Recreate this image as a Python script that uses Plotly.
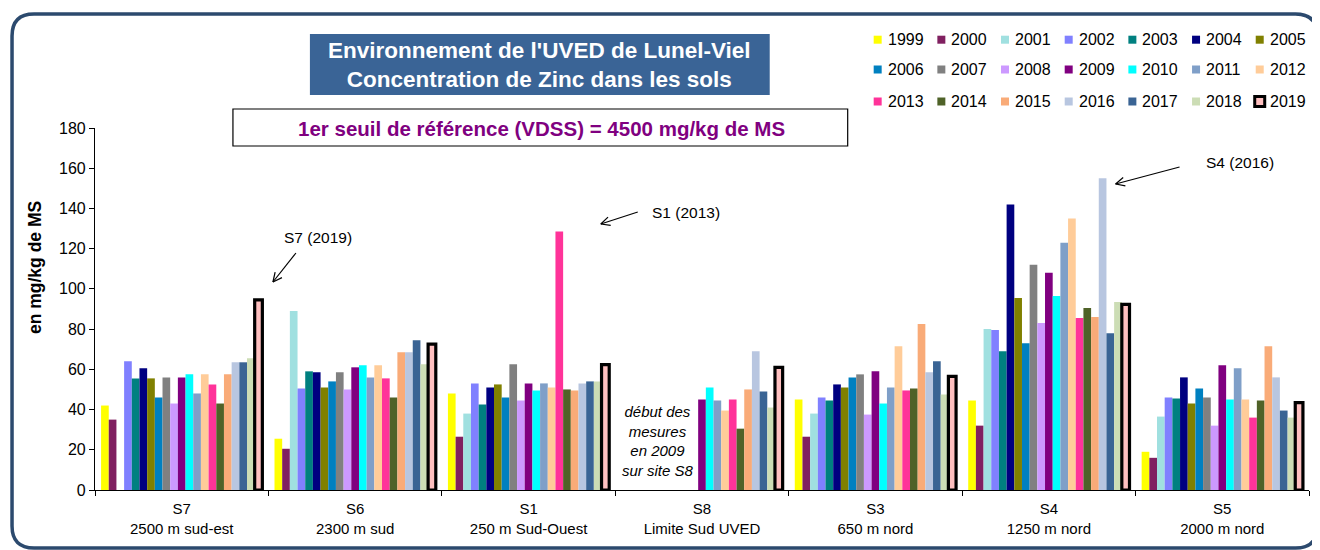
import math
import plotly.graph_objects as go

# ---------------- data ----------------
sites = ["S7<br>2500 m sud-est", "S6<br>2300 m sud", "S1<br>250 m Sud-Ouest",
         "S8<br>Limite Sud UVED", "S3<br>650 m nord", "S4<br>1250 m nord", "S5<br>2000 m nord"]
years = ["1999", "2000", "2001", "2002", "2003", "2004", "2005", "2006", "2007", "2008",
         "2009", "2010", "2011", "2012", "2013", "2014", "2015", "2016", "2017", "2018", "2019"]

# Zinc concentration (mg/kg MS), one list per site, ordered by year 1999..2019
s7 = [42, 35, None, 64, 55.5, 60.5, 55.5, 46, 56, 43, 56, 57.5, 48, 57.5, 52.5, 43, 57.5, 63.5, 63.5, 65.5, 94.5]
s6 = [25.5, 20.5, 89, 50.5, 59, 58.5, 51, 54, 58.5, 50, 61, 62, 56, 62, 55.5, 46, 68.5, 68.5, 74.5, 62.5, 72.5]
s1 = [48, 26.5, 38, 53, 42.5, 51, 52.5, 46, 62.5, 44.5, 53, 49.5, 53, 51, 128.5, 50, 49.5, 53, 54, 54, 62.3]
s8 = [None, None, None, None, None, None, None, None, None, None,
      45, 51, 44.5, 39.5, 45, 30.5, 50, 69, 49, 41, 61]
s3 = [45, 26.5, 38, 46, 44.5, 52.5, 51, 56, 57.5, 37.5, 59, 43, 51, 71.5, 49.5, 50.5, 82.5, 58.5, 64, 47.5, 56.5]
s4 = [44.5, 32, 80, 79.5, 69, 142, 95.5, 73, 112, 83, 108, 96.5, 123, 135, 85.5, 90.5, 86, 155, 78, 93.5, 92.3]
s5 = [19, 16, 36.5, 46, 45.5, 56, 43, 50.5, 46, 32, 62, 45, 60.5, 45, 36, 44.5, 71.5, 56, 39.5, 36, 43.4]

site_values = [s7, s6, s1, s8, s3, s4, s5]

colors = ["#FFFF00", "#802060", "#A0E0E0", "#8080FF", "#008080", "#000080", "#808000",
          "#0080C0", "#808080", "#CC99FF", "#800080", "#00FFFF", "#7F9FC8", "#FFCC99",
          "#FF3399", "#4F6228", "#F9AB78", "#B8C6E0", "#3A6494", "#CCDDB5", "#FFC0C0"]

# ---------------- geometry helpers ----------------
# The page body has an 8px margin, so page coordinates = figure coordinates + 8.
W, H = 1320, 550
OFF = 8
PLOT_LEFT, PLOT_RIGHT, PLOT_TOP, PLOT_BOTTOM = 95, 1309.5, 128, 490  # page pixels
L = PLOT_LEFT - OFF
R = W - (PLOT_RIGHT - OFF)
T = PLOT_TOP - OFF
B = H - (PLOT_BOTTOM - OFF)
PW = PLOT_RIGHT - PLOT_LEFT
PH = PLOT_BOTTOM - PLOT_TOP


def px(x):
    return (x - PLOT_LEFT) / PW


def py(y):
    return (PLOT_BOTTOM - y) / PH


FONT = "Liberation Sans, Arial, sans-serif"

fig = go.Figure()
for i, yr in enumerate(years):
    vals = [sv[i] for sv in site_values]
    is_last = (yr == "2019")
    fig.add_trace(go.Bar(
        x=sites, y=vals, name=yr,
        marker=dict(color=colors[i],
                    line=dict(color="black" if is_last else colors[i], width=3.2 if is_last else 0)),
        showlegend=False,
    ))

shapes = []
annotations = []

# outer rounded frame
x0, y0, x1, y1, r = 12, 14, 1318, 548, 22
path = (f"M {px(x0)},{py(y1 - r)} L {px(x0)},{py(y0 + r)} Q {px(x0)},{py(y0)} {px(x0 + r)},{py(y0)} "
        f"L {px(x1 - r)},{py(y0)} Q {px(x1)},{py(y0)} {px(x1)},{py(y0 + r)} "
        f"L {px(x1)},{py(y1 - r)} Q {px(x1)},{py(y1)} {px(x1 - r)},{py(y1)} "
        f"L {px(x0 + r)},{py(y1)} Q {px(x0)},{py(y1)} {px(x0)},{py(y1 - r)} Z")
shapes.append(dict(type="path", xref="paper", yref="paper", path=path,
                   line=dict(color="#2C4A6E", width=3.5), fillcolor="rgba(0,0,0,0)", layer="below"))

# title box
shapes.append(dict(type="rect", xref="paper", yref="paper",
                   x0=px(310), x1=px(770), y0=py(95), y1=py(34),
                   fillcolor="#3A6496", line=dict(width=0)))
annotations.append(dict(xref="paper", yref="paper", x=px(540), y=py(64.5), showarrow=False,
                        text="<b>Environnement de l'UVED de Lunel-Viel<br>Concentration de Zinc dans les sols</b>",
                        font=dict(family=FONT, size=22.5, color="white"), align="center",
                        xanchor="center", yanchor="middle"))

# threshold box
shapes.append(dict(type="rect", xref="paper", yref="paper",
                   x0=px(233), x1=px(848), y0=py(146), y1=py(109),
                   fillcolor="white", line=dict(color="black", width=1.2)))
annotations.append(dict(xref="paper", yref="paper", x=px(542), y=py(128), showarrow=False,
                        text="<b>1er seuil de référence (VDSS) = 4500 mg/kg de MS</b>",
                        font=dict(family=FONT, size=20.5, color="#800080"),
                        xanchor="center", yanchor="middle"))

# legend (manual, 3 rows x 7 columns)
leg_x0, leg_dx = 874, 63.7
leg_rows = [39.7, 69.5, 101.5]
for i, yr in enumerate(years):
    row, col = divmod(i, 7)
    sx = leg_x0 + col * leg_dx
    cy = leg_rows[row]
    if yr == "2019":
        shapes.append(dict(type="rect", xref="paper", yref="paper",
                           x0=px(sx - 1), x1=px(sx + 9), y0=py(cy + 5), y1=py(cy - 5),
                           fillcolor=colors[i], line=dict(color="black", width=3)))
    else:
        shapes.append(dict(type="rect", xref="paper", yref="paper",
                           x0=px(sx), x1=px(sx + 8), y0=py(cy + 4), y1=py(cy - 4),
                           fillcolor=colors[i], line=dict(width=0)))
    annotations.append(dict(xref="paper", yref="paper", x=px(sx + 12), y=py(cy), showarrow=False,
                            text=yr, font=dict(family=FONT, size=16, color="black"),
                            xanchor="left", yanchor="middle"))


# arrows (open V heads)
def arrow(tail, head, size=10):
    tx, ty = tail
    hx, hy = head
    ang = math.atan2(ty - hy, tx - hx)
    shapes.append(dict(type="line", xref="paper", yref="paper",
                       x0=px(tx), y0=py(ty), x1=px(hx), y1=py(hy),
                       line=dict(color="black", width=1.2)))
    for d in (0.45, -0.45):
        ex = hx + size * math.cos(ang + d)
        ey = hy + size * math.sin(ang + d)
        shapes.append(dict(type="line", xref="paper", yref="paper",
                           x0=px(hx), y0=py(hy), x1=px(ex), y1=py(ey),
                           line=dict(color="black", width=1.2)))


arrow((296, 253), (273, 282))
arrow((638, 212), (601, 224))
arrow((1180, 167), (1116, 184))

for txt, cx, cy in [("S7 (2019)", 318, 237), ("S1 (2013)", 686, 212), ("S4 (2016)", 1240, 162)]:
    annotations.append(dict(xref="paper", yref="paper", x=px(cx), y=py(cy), showarrow=False,
                            text=txt, font=dict(family=FONT, size=15.5, color="black"),
                            xanchor="center", yanchor="middle"))

# S8 note
annotations.append(dict(xref="paper", yref="paper", x=px(658), y=py(441), showarrow=False,
                        text="<i>début des<br>mesures<br>en 2009<br>sur site S8</i>",
                        font=dict(family=FONT, size=15, color="black"), align="center",
                        xanchor="center", yanchor="middle"))

# y-axis title
annotations.append(dict(xref="paper", yref="paper", x=px(35), y=py(268), showarrow=False,
                        text="<b>en mg/kg de MS</b>", textangle=-90,
                        font=dict(family=FONT, size=17.5, color="black"),
                        xanchor="center", yanchor="middle"))

fig.update_layout(
    width=W, height=H,
    margin=dict(l=L, r=R, t=T, b=B, pad=0),
    paper_bgcolor="white", plot_bgcolor="white",
    barmode="group", bargap=0.07, bargroupgap=0,
    font=dict(family=FONT, size=14, color="black"),
    shapes=shapes, annotations=annotations,
    showlegend=False,
    xaxis=dict(type="category", showline=True, linecolor="black", linewidth=1.2,
               ticks="outside", tickson="boundaries", ticklen=5, tickcolor="black",
               ticklabelstandoff=5,
               tickfont=dict(family=FONT, size=15, color="black"), showgrid=False),
    yaxis=dict(range=[0, 180], tick0=0, dtick=20, showline=True, linecolor="black", linewidth=1.2,
               ticks="outside", ticklen=5, tickcolor="black", showgrid=False, zeroline=False,
               tickfont=dict(family=FONT, size=16, color="black")),
)

fig.write_html("out.html")
